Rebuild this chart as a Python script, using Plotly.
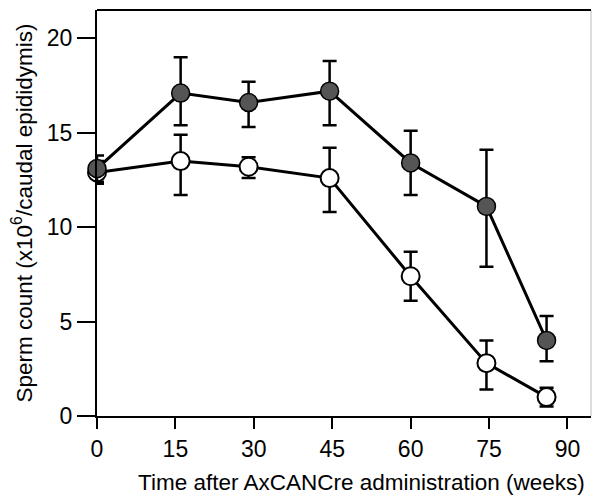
import plotly.graph_objects as go

weeks = [0, 16, 29, 44.5, 60, 74.5, 86]

filled_y = [13.1, 17.1, 16.6, 17.2, 13.4, 11.1, 4.0]
filled_up = [0.7, 1.9, 1.1, 1.6, 1.7, 3.0, 1.3]
filled_dn = [0.7, 1.7, 1.3, 1.8, 1.7, 3.2, 1.1]

open_y = [12.9, 13.5, 13.2, 12.6, 7.4, 2.8, 1.0]
open_up = [0.6, 1.4, 0.5, 1.6, 1.3, 1.2, 0.5]
open_dn = [0.6, 1.8, 0.6, 1.8, 1.3, 1.4, 0.5]

x_ticks = [0, 15, 30, 45, 60, 75, 90]
y_ticks = [0, 5, 10, 15, 20]

x_title = "Time after AxCANCre administration (weeks)"
y_title = "Sperm count (x10<sup>6</sup>/caudal epididymis)"

font = "Liberation Sans, Arial, sans-serif"

fig = go.Figure()
fig.add_trace(go.Scatter(
    x=weeks, y=open_y, mode="lines+markers",
    line=dict(color="black", width=3),
    marker=dict(size=18, color="white", line=dict(color="black", width=2)),
    error_y=dict(type="data", symmetric=False, array=open_up, arrayminus=open_dn,
                 color="black", thickness=2.5, width=7),
    cliponaxis=False, showlegend=False,
))
fig.add_trace(go.Scatter(
    x=weeks, y=filled_y, mode="lines+markers",
    line=dict(color="black", width=3),
    marker=dict(size=18, color="#555555", line=dict(color="black", width=1.5)),
    error_y=dict(type="data", symmetric=False, array=filled_up, arrayminus=filled_dn,
                 color="black", thickness=2.5, width=7),
    cliponaxis=False, showlegend=False,
))

fig.add_shape(type="line", xref="paper", yref="paper", x0=1, x1=1, y0=0, y1=1,
              line=dict(color="#bbbbbb", width=1))
fig.add_shape(type="line", xref="paper", yref="paper", x0=0, x1=1, y0=1, y1=1,
              line=dict(color="black", width=2))

fig.add_annotation(text=x_title, xref="paper", yref="paper", x=0.536, y=-0.165,
                   xanchor="center", yanchor="middle", showarrow=False,
                   font=dict(size=22.5))

fig.update_layout(
    width=593, height=497,
    margin=dict(l=97, r=2, t=10, b=81),
    paper_bgcolor="white", plot_bgcolor="white",
    font=dict(family=font, color="black", size=22),
    xaxis=dict(
        range=[0, 94.5], tickvals=x_ticks, ticks="outside", ticklen=11, tickwidth=2,
        tickcolor="black", showline=True, linecolor="black", linewidth=2,
        showgrid=False, zeroline=False,
        tickfont=dict(size=23),
    ),
    yaxis=dict(
        range=[0, 21.5], tickvals=y_ticks, ticks="outside", ticklen=18, tickwidth=2,
        tickcolor="black", showline=True, linecolor="black", linewidth=2,
        showgrid=False, zeroline=False,
        tickfont=dict(size=23),
        title=dict(text=y_title, font=dict(size=22.5), standoff=8),
    ),
)

fig.write_html("out.html")
